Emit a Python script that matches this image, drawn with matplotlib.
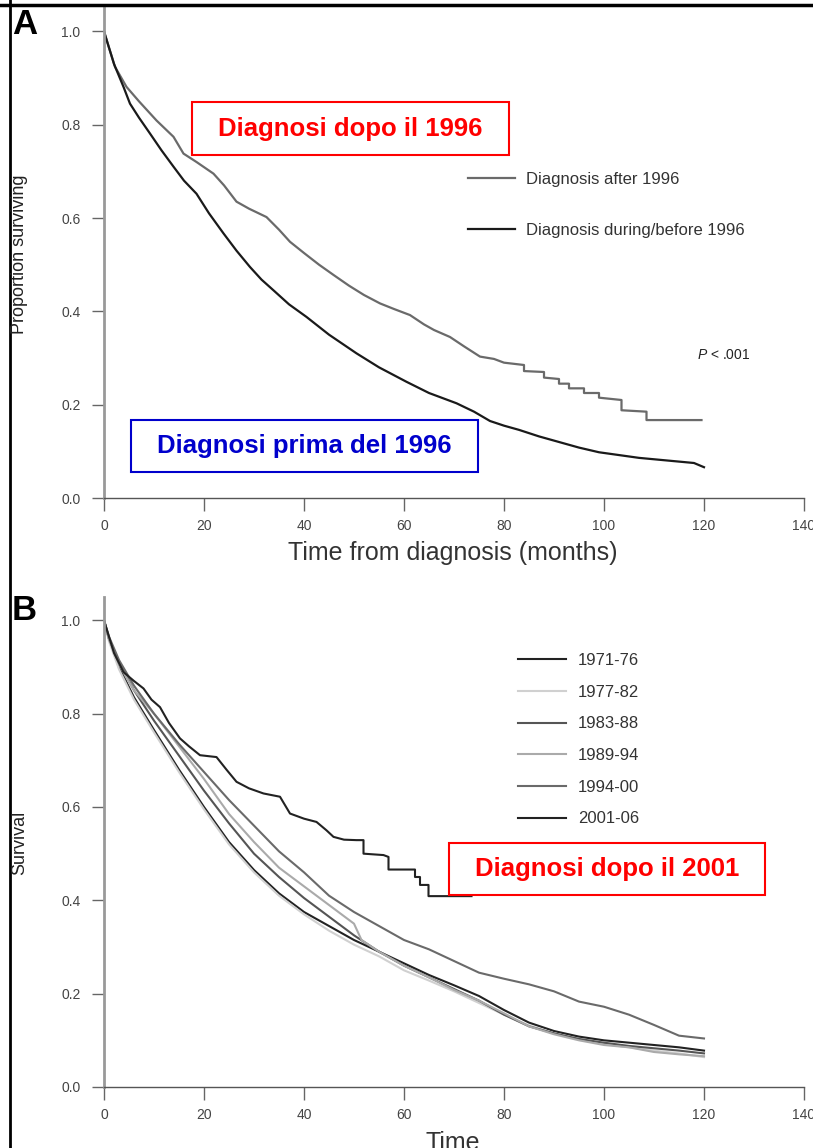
import matplotlib
matplotlib.use("Agg")
import matplotlib.pyplot as plt
from matplotlib.lines import Line2D
from matplotlib.patches import Rectangle

plt.rcParams['font.family'] = ['Liberation Sans', 'DejaVu Sans']
plt.rcParams['mathtext.fontset'] = 'custom'
plt.rcParams['mathtext.it'] = 'Liberation Sans:italic'
plt.rcParams['mathtext.rm'] = 'Liberation Sans'

# ---- Panel A data ----
t_after = [0, 1, 2.2, 4.5, 7, 10.5, 13.9, 15.9, 18.5, 21.9, 24, 26.5, 29, 32.5, 35, 37.2, 40, 43,
           45.9, 49, 52, 55.2, 58, 61.2, 64, 66, 69.2, 72, 75.2, 78, 80, 84, 84, 88, 88, 91, 91,
           93, 93, 96, 96, 99, 99, 103.5, 103.5, 108.5, 108.5, 119.5]
s_after = [1.0, 0.965, 0.924, 0.881, 0.85, 0.809, 0.774, 0.738, 0.72, 0.695, 0.67, 0.635, 0.62,
           0.602, 0.575, 0.549, 0.525, 0.5, 0.478, 0.455, 0.435, 0.417, 0.405, 0.392, 0.372, 0.36,
           0.345, 0.325, 0.303, 0.298, 0.29, 0.285, 0.272, 0.27, 0.258, 0.255, 0.245, 0.245, 0.235,
           0.235, 0.225, 0.225, 0.215, 0.21, 0.188, 0.185, 0.167, 0.167]

t_before = [0, 2, 3.9, 5.2, 7, 9.2, 11.5, 13.9, 16, 18.5, 21, 23.9, 26.5, 29.2, 31.5, 33.9, 37,
            40.5, 45, 50.5, 55, 60.5, 65, 70.5, 74, 77.2, 80, 83, 87, 91, 95, 99, 103, 107, 111,
            115, 118, 120]
s_before = [1.0, 0.93, 0.881, 0.845, 0.815, 0.781, 0.745, 0.71, 0.68, 0.652, 0.61, 0.567, 0.53,
            0.495, 0.468, 0.445, 0.415, 0.388, 0.35, 0.31, 0.28, 0.249, 0.225, 0.203, 0.185, 0.165,
            0.155, 0.146, 0.132, 0.12, 0.108, 0.098, 0.092, 0.086, 0.082, 0.078, 0.075, 0.066]

labels_a = ['Diagnosis after 1996', 'Diagnosis during/before 1996']

# ---- Panel B data ----
t_b = [0, 1, 3, 6, 10, 15, 20, 25, 30, 35, 40, 45, 50, 55, 60, 65, 70, 75, 80, 85, 90, 95, 100,
       105, 110, 115, 120]
s_7176 = [1, 0.96, 0.9, 0.835, 0.765, 0.68, 0.6, 0.525, 0.465, 0.415, 0.375, 0.345, 0.315, 0.29,
          0.265, 0.24, 0.218, 0.195, 0.165, 0.138, 0.12, 0.108, 0.1, 0.095, 0.09, 0.085, 0.078]
s_7782 = [1, 0.955, 0.895, 0.83, 0.76, 0.675, 0.595, 0.52, 0.46, 0.41, 0.37, 0.335, 0.305, 0.28,
          0.25, 0.228, 0.205, 0.18, 0.155, 0.132, 0.115, 0.102, 0.092, 0.085, 0.078, 0.072, 0.064]
s_8388 = [1, 0.96, 0.91, 0.85, 0.785, 0.71, 0.635, 0.565, 0.5, 0.45, 0.405, 0.365, 0.325, 0.29,
          0.26, 0.235, 0.21, 0.185, 0.155, 0.13, 0.115, 0.103, 0.095, 0.088, 0.083, 0.078, 0.072]
s_9400 = [1, 0.965, 0.915, 0.86, 0.8, 0.735, 0.675, 0.615, 0.56, 0.505, 0.46, 0.41, 0.375, 0.345,
          0.315, 0.295, 0.27, 0.245, 0.232, 0.22, 0.205, 0.183, 0.172, 0.155, 0.133, 0.11, 0.104]

t_8994 = [0, 1, 3, 6, 10, 15, 20, 25, 30, 35, 40, 45, 50, 51.5, 55, 60, 65, 70, 75, 80, 85, 90,
          95, 100, 105, 110, 115, 120]
s_8994 = [1, 0.96, 0.905, 0.85, 0.8, 0.73, 0.66, 0.585, 0.525, 0.47, 0.43, 0.39, 0.35, 0.315,
          0.29, 0.26, 0.235, 0.208, 0.185, 0.158, 0.13, 0.113, 0.1, 0.09, 0.085, 0.075, 0.07, 0.066]

# 2001-06: step corners listed where the steps are large
t_0106 = [0, 2, 3.9, 6, 7.9, 9.5, 11.2, 13, 15.2, 17, 19.2, 22.5, 24.5, 26.5, 29, 31.9, 35.2,
          37.2, 40, 42.5, 44.5, 45.9, 48, 50.5, 51.9, 51.9, 55.9, 56.9, 56.9, 62.2, 62.2, 63.2,
          63.2, 64.9, 64.9, 73.5]
s_0106 = [1, 0.93, 0.889, 0.87, 0.854, 0.83, 0.814, 0.78, 0.747, 0.73, 0.711, 0.707, 0.68, 0.654,
          0.64, 0.629, 0.622, 0.586, 0.575, 0.568, 0.55, 0.536, 0.53, 0.529, 0.529, 0.5, 0.497,
          0.493, 0.466, 0.466, 0.45, 0.45, 0.433, 0.433, 0.409, 0.409]

labels_b = ['1971-76', '1977-82', '1983-88', '1989-94', '1994-00', '2001-06']
colors_b = ['#222222', '#d0d0d0', '#555555', '#aaaaaa', '#6a6a6a', '#222222']

W, H = 813, 1148
fig = plt.figure(figsize=(W / 100, H / 100), dpi=100)


def fx(px):
    return px / W


def fy(py):
    return 1 - py / H


def style_axes(ax):
    ax.set_xlim(0, 140)
    ax.set_ylim(0, 1.05)
    ax.set_xticks(range(0, 141, 20))
    ax.set_yticks([0, 0.2, 0.4, 0.6, 0.8, 1.0])
    ax.set_yticklabels(['0.0', '0.2', '0.4', '0.6', '0.8', '1.0'])
    for s in ['top', 'right']:
        ax.spines[s].set_visible(False)
    ax.spines['left'].set_color('#999999')
    ax.spines['left'].set_linewidth(2)
    ax.spines['bottom'].set_color('#555555')
    ax.spines['bottom'].set_linewidth(1)
    ax.tick_params(axis='both', length=9, width=1, color='#666666', labelsize=10,
                   labelcolor='#444444', pad=6)
    ax.tick_params(axis='y', pad=8)


# ---- Panel A ----
ax_a = fig.add_axes([fx(104), fy(498), fx(804) - fx(104), fy(8) - fy(498)])
style_axes(ax_a)
l1, = ax_a.plot(t_after, s_after, color='#6a6a6a', lw=1.6)
l2, = ax_a.plot(t_before, s_before, color='#1a1a1a', lw=1.6)
leg = ax_a.legend([l1, l2], labels_a, loc='upper left', bbox_to_anchor=(fx(468), fy(172)),
                  bbox_transform=fig.transFigure, frameon=False, fontsize=12, borderpad=0,
                  borderaxespad=0, handlelength=2.8, handletextpad=0.7, labelspacing=2.15)
for txt in leg.get_texts():
    txt.set_color('#333333')
fig.text(fx(697), fy(355), r'$P$ < .001', fontsize=10, color='#222222', va='center', ha='left')

# ---- Panel B ----
ax_b = fig.add_axes([fx(104), fy(1087), fx(804) - fx(104), fy(597) - fy(1087)])
style_axes(ax_b)
series_b = [(t_b, s_7176), (t_b, s_7782), (t_b, s_8388), (t_8994, s_8994), (t_b, s_9400),
            (t_0106, s_0106)]
handles_b = []
for (t, s), c in zip(series_b, colors_b):
    h, = ax_b.plot(t, s, color=c, lw=1.5)
    handles_b.append(h)
leg_b = ax_b.legend(handles_b, labels_b, loc='upper left', bbox_to_anchor=(fx(518), fy(653)),
                    bbox_transform=fig.transFigure, frameon=False, fontsize=12, borderpad=0,
                    borderaxespad=0, handlelength=2.9, handletextpad=0.7, labelspacing=1.0)
for txt in leg_b.get_texts():
    txt.set_color('#333333')

# ---- axis labels ----
fig.text(fx(20), fy(254), 'Proportion surviving', rotation=90, fontsize=13, color='#222222',
         ha='center', va='center')
fig.text(fx(20), fy(843), 'Survival', rotation=90, fontsize=13, color='#222222',
         ha='center', va='center')
fig.text(fx(453), fy(553), 'Time from diagnosis (months)', fontsize=18, color='#333333',
         ha='center', va='center')
fig.text(fx(453), fy(1131), 'Time', fontsize=18, color='#333333', ha='center', va='top')

# ---- panel letters ----
fig.text(fx(12), fy(8), 'A', fontsize=25, fontweight='bold', ha='left', va='top')
fig.text(fx(12), fy(594), 'B', fontsize=25, fontweight='bold', ha='left', va='top')

# ---- annotation boxes ----
boxes = [
    ((192, 102, 509, 155), 'Diagnosi dopo il 1996', '#ff0000'),
    ((131, 420, 478, 472), 'Diagnosi prima del 1996', '#0000cc'),
    ((449, 843, 765, 895), 'Diagnosi dopo il 2001', '#ff0000'),
]
for (x0, y0, x1, y1), label, col in boxes:
    fig.add_artist(Rectangle((fx(x0), fy(y1)), fx(x1) - fx(x0), fy(y0) - fy(y1),
                             transform=fig.transFigure, facecolor='white', edgecolor=col,
                             lw=1.5, zorder=5))
    fig.text(fx((x0 + x1) / 2), fy((y0 + y1) / 2), label, color=col, fontsize=18.5,
             fontweight='bold', ha='center', va='center', zorder=6)

# ---- outer frame (top and left edges) ----
fig.add_artist(Line2D([0, 1], [fy(5), fy(5)], transform=fig.transFigure, color='black', lw=2.5))
fig.add_artist(Line2D([fx(10), fx(10)], [0, 1], transform=fig.transFigure, color='black', lw=2))

fig.savefig('out.png', dpi=100)
plt.close(fig)
